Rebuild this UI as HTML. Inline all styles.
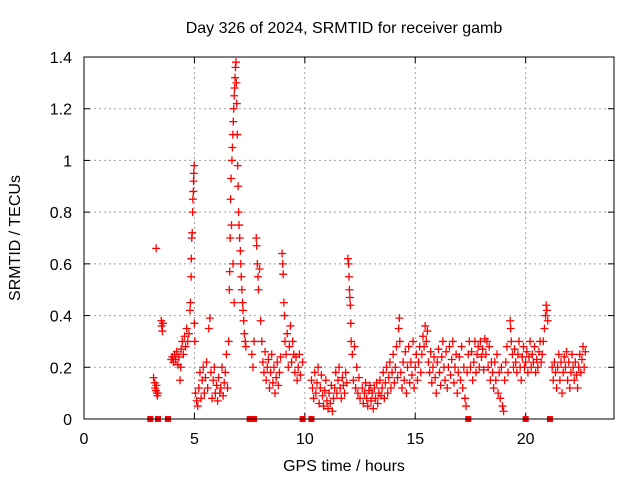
<!DOCTYPE html>
<html><head><meta charset="utf-8"><style>
body{margin:0;background:#fff}
svg{display:block;font-family:"Liberation Sans",sans-serif}
</style></head><body>
<svg id="chart" width="640" height="480" viewBox="0 0 640 480">
<rect width="640" height="480" fill="#fff"/>
<text x="344" y="33" font-size="16" text-anchor="middle">Day 326 of 2024, SRMTID for receiver gamb</text>
<text transform="translate(20,238) rotate(-90)" font-size="16" text-anchor="middle">SRMTID / TECUs</text>
<text x="344" y="471" font-size="16" text-anchor="middle">GPS time / hours</text>
<g id="grid"></g>
<g id="ticks"></g>
<g id="marks"></g>
<rect x="84" y="57" width="530" height="362" fill="none" stroke="#000" stroke-width="1"/>
</svg>
<script>
const xTicks=[0,5,10,15,20];
const yTicks=[0,0.2,0.4,0.6,0.8,1,1.2,1.4];
const yTickLabels=["0","0.2","0.4","0.6","0.8","1","1.2","1.4"];
const gapTimes=[3.0,3.35,3.8,7.5,7.6,7.7,9.9,10.3,17.4,20.0,21.1];
const observations=[
[3.15,.16],[3.2,.14],[3.22,.12],[3.25,.11],[3.28,.13],[3.3,.10],[3.32,.09],[3.35,.10],[3.27,.66],
[3.5,.38],[3.52,.36],[3.55,.34],[3.58,.37],
[3.95,.23],[4.0,.24],[4.05,.22],[4.1,.25],[4.15,.23],[4.2,.26],[4.25,.21],[4.3,.24],[4.35,.15],[4.38,.2],[4.4,.27],[4.45,.3],[4.5,.25],[4.55,.32],[4.6,.28],[4.65,.35],[4.7,.3],[4.75,.33],
[4.8,.42],[4.82,.45],[4.85,.55],[4.86,.62],[4.88,.7],[4.9,.72],[4.92,.8],[4.93,.85],[4.95,.88],[4.96,.92],[4.97,.95],[4.99,.98],[5.0,.37],[5.02,.3],
[5.05,.1],[5.1,.07],[5.15,.05],[5.2,.12],[5.25,.18],[5.3,.08],[5.35,.15],[5.4,.2],[5.45,.1],[5.5,.16],[5.55,.22],[5.6,.12],[5.65,.35],[5.7,.39],[5.75,.18],[5.8,.08],[5.85,.15],[5.9,.2],[5.95,.1],[6.0,.13],[6.05,.07],[6.1,.16],[6.15,.1],[6.2,.12],[6.25,.2],[6.3,.09],[6.35,.14],[6.4,.18],[6.45,.25],[6.5,.12],[6.55,.3],[6.58,.5],[6.6,.57],[6.62,.7],[6.64,.85],[6.66,.93],[6.68,.75],
[6.7,1.0],[6.72,1.05],[6.74,1.1],[6.76,1.15],[6.78,1.2],[6.8,1.25],[6.82,1.28],[6.84,1.32],[6.86,1.36],[6.88,1.38],[6.9,1.3],[6.92,1.22],[6.94,1.1],[6.96,.98],[6.98,.9],[7.0,.8],[7.02,.75],[7.05,.7],[7.08,.65],[7.1,.6],[7.12,.55],[7.15,.5],[7.18,.45],[7.2,.42],[7.23,.38],[7.26,.33],[7.3,.3],[7.33,.28],[6.75,.6],[6.8,.45],
[7.6,.25],[7.65,.2],[7.7,.3],[7.8,.7],[7.82,.67],[7.85,.6],[7.88,.55],[7.9,.5],[7.95,.58],[8.0,.38],[8.05,.3],[8.1,.22],[8.15,.18],[8.2,.26],[8.25,.15],[8.3,.2],[8.35,.23],[8.4,.12],[8.45,.18],[8.5,.25],[8.55,.14],[8.6,.2],[8.65,.1],[8.7,.16],[8.75,.22],[8.8,.13],[8.85,.18],[8.9,.24],
[8.97,.64],[9.0,.6],[9.02,.56],[9.05,.45],[9.08,.4],[9.1,.3],[9.15,.25],[9.2,.33],[9.25,.2],[9.3,.28],[9.35,.36],[9.4,.22],[9.45,.3],[9.5,.25],[9.55,.18],[9.6,.24],[9.65,.15],[9.7,.2],[9.75,.25],[9.8,.17],[9.9,.22],
[10.3,.15],[10.35,.12],[10.4,.08],[10.45,.18],[10.5,.1],[10.55,.14],[10.6,.2],[10.65,.06],[10.7,.12],[10.75,.17],[10.8,.09],[10.85,.05],[10.9,.11],[10.95,.15],[11.0,.07],[11.05,.04],[11.1,.1],[11.15,.06],[11.2,.13],[11.25,.03],[11.3,.08],[11.35,.12],[11.4,.18],[11.45,.1],[11.5,.15],[11.55,.2],[11.6,.12],[11.65,.08],[11.7,.16],[11.75,.13],[11.8,.1],[11.85,.18],[11.9,.14],
[11.95,.62],[11.98,.6],[12.0,.55],[12.02,.5],[12.04,.47],[12.06,.44],[12.08,.37],[12.1,.3],[12.15,.25],[12.2,.15],[12.25,.28],[12.3,.12],[12.35,.2],[12.4,.1],[12.45,.16],[12.5,.08],
[12.6,.12],[12.65,.06],[12.7,.1],[12.75,.14],[12.8,.08],[12.85,.05],[12.9,.11],[12.95,.13],[13.0,.07],[13.05,.1],[13.1,.04],[13.15,.12],[13.2,.08],[13.25,.14],[13.3,.06],[13.35,.1],[13.4,.15],[13.45,.09],[13.5,.12],[13.55,.18],[13.6,.08],[13.65,.14],[13.7,.2],[13.75,.1],[13.8,.16],[13.85,.22],[13.9,.12],[13.95,.18],[14.0,.25],[14.05,.14],[14.1,.2],[14.15,.28],[14.2,.16],[14.25,.35],[14.28,.39],[14.3,.3],[14.35,.18],[14.4,.12],[14.45,.22],[14.5,.15],[14.55,.26],[14.6,.1],[14.65,.2],[14.7,.28],[14.75,.14],[14.8,.22],[14.85,.17],[14.9,.3],[14.95,.12],[15.0,.2],[15.05,.25],[15.1,.15],[15.15,.22],[15.2,.28],[15.25,.18],
[15.3,.25],[15.35,.32],[15.4,.28],[15.45,.36],[15.5,.3],[15.55,.34],[15.6,.22],[15.65,.18],[15.7,.26],[15.75,.14],[15.8,.2],[15.85,.24],[15.9,.16],[15.95,.1],[16.0,.22],[16.05,.27],[16.1,.18],[16.15,.13],[16.2,.24],[16.25,.3],[16.3,.2],[16.35,.15],[16.4,.26],[16.45,.12],[16.5,.2],[16.55,.28],[16.6,.17],[16.65,.23],[16.7,.3],[16.75,.14],[16.8,.2],[16.85,.25],[16.9,.1],[16.95,.18],[17.0,.24],
[17.05,.15],[17.1,.28],[17.15,.12],[17.2,.2],[17.25,.08],[17.3,.05],[17.35,.18],[17.4,.25],[17.45,.3],[17.5,.2],[17.55,.26],[17.6,.15],[17.65,.22],[17.7,.3],[17.75,.18],[17.8,.25],[17.85,.28],[17.9,.2],[17.95,.3],[18.0,.24],[18.05,.27],[18.1,.19],[18.15,.31],[18.2,.25],[18.25,.3],[18.3,.2],[18.35,.28],[18.4,.15],[18.45,.22],
[18.5,.18],[18.55,.12],[18.6,.22],[18.65,.15],[18.7,.25],[18.75,.1],[18.8,.18],[18.85,.08],[18.9,.2],[18.95,.05],[19.0,.03],[19.05,.15],[19.1,.22],[19.15,.28],[19.2,.18],
[19.3,.38],[19.32,.35],[19.35,.3],[19.4,.25],[19.45,.2],[19.5,.27],[19.55,.22],[19.6,.18],[19.65,.25],[19.7,.3],[19.75,.2],[19.8,.15],[19.85,.24],[19.9,.28],[19.95,.2],[20.0,.22],[20.05,.26],[20.1,.18],[20.15,.24],[20.2,.3],[20.25,.2],[20.3,.25],[20.35,.22],[20.4,.28],[20.45,.18],[20.5,.23],[20.55,.2],[20.6,.26],[20.65,.3],[20.7,.22],[20.75,.25],[20.8,.3],[20.85,.35],[20.9,.4],[20.93,.44],[20.96,.42],[21.0,.38],
[21.2,.2],[21.25,.15],[21.3,.22],[21.35,.18],[21.4,.12],[21.45,.2],[21.5,.25],[21.55,.15],[21.6,.22],[21.65,.1],[21.7,.18],[21.75,.24],[21.8,.2],[21.85,.26],[21.9,.15],[21.95,.22],[22.0,.12],[22.05,.18],[22.1,.25],[22.15,.2],[22.2,.15],[22.25,.22],[22.3,.17],[22.35,.12],[22.4,.2],[22.45,.25],[22.5,.18],[22.55,.23],[22.6,.28],[22.65,.2],[22.7,.26]
];
const NS="http://www.w3.org/2000/svg";
const L=84,R=614,T=57,B=419,XMAX=24,YMAX=1.4;
function xs(t){return L+(R-L)*t/XMAX;}
function ys(v){return B-(B-T)*v/YMAX;}
function mk(tag,attrs,parent){const e=document.createElementNS(NS,tag);for(const k in attrs)e.setAttribute(k,attrs[k]);parent.appendChild(e);return e;}
const grid=document.getElementById('grid'),ticks=document.getElementById('ticks'),marks=document.getElementById('marks');
yTicks.forEach((v,i)=>{
  const y=ys(v);
  if(v>0&&v<YMAX){const g=mk('line',{x1:L,x2:R,y1:y,y2:y,stroke:'#a0a0a0','stroke-dasharray':'2,3'},grid);
  
  }
  mk('line',{x1:L,x2:L+6,y1:y,y2:y,stroke:'#000'},ticks);
  mk('line',{x1:R-6,x2:R,y1:y,y2:y,stroke:'#000'},ticks);
  const t=mk('text',{x:72,y:y+6,'font-size':16,'text-anchor':'end'},ticks);
  t.textContent=yTickLabels[i];
  
  
});
xTicks.forEach(v=>{
  const x=xs(v);
  if(v>0){const g=mk('line',{x1:x,x2:x,y1:T,y2:B,stroke:'#a0a0a0','stroke-dasharray':'2,3'},grid);
  
  }
  mk('line',{x1:x,x2:x,y1:B,y2:B-6,stroke:'#000'},ticks);
  mk('line',{x1:x,x2:x,y1:T,y2:T+6,stroke:'#000'},ticks);
  const t=mk('text',{x:x,y:444,'font-size':16,'text-anchor':'middle'},ticks);
  t.textContent=String(v);
  
  
});
observations.forEach(p=>{
  const x=xs(p[0]),y=ys(p[1]);
  const m=mk('path',{d:`M${x-4},${y}H${x+4}M${x},${y-4}V${y+4}`,stroke:'#ff0000','stroke-width':1.3,fill:'none'},marks);
  
  
});
gapTimes.forEach(t=>{
  const m=mk('rect',{x:xs(t)-3,y:ys(0)-3,width:6,height:6,fill:'#ff0000'},marks);
  
  
});
</script>
</body></html>
